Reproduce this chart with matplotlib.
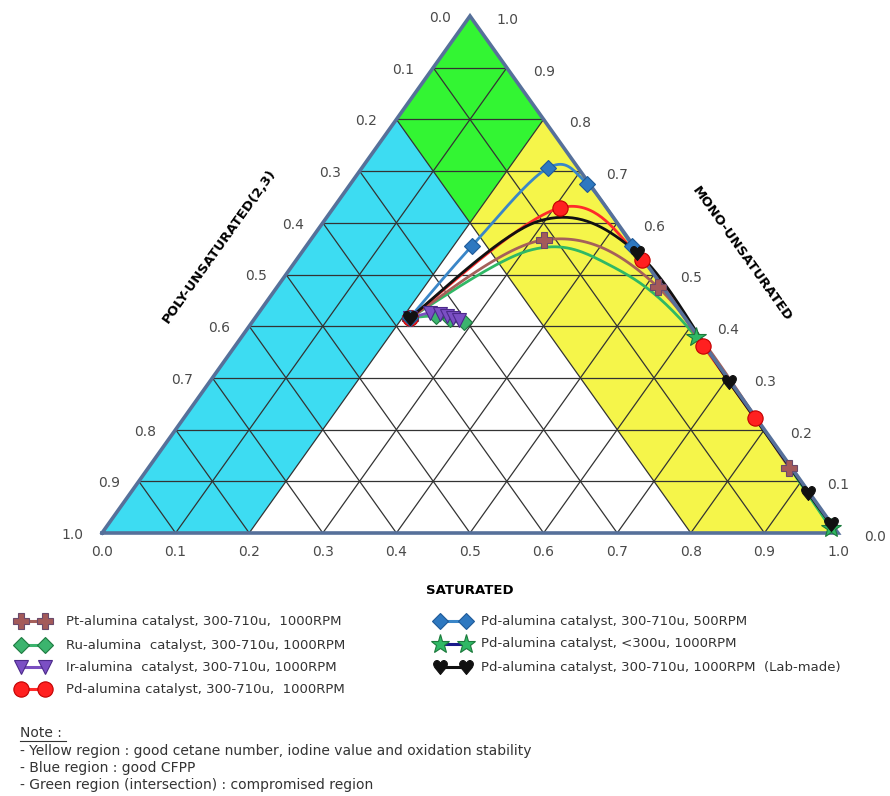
import numpy as np
import matplotlib
matplotlib.use("Agg")
import matplotlib.pyplot as plt

# ---------------- data (ternary compositions: S = saturated, M = mono-unsaturated; P = 1 - S - M) ----
ticks = [0.0, 0.1, 0.2, 0.3, 0.4, 0.5, 0.6, 0.7, 0.8, 0.9, 1.0]
blue_max_S = 0.2     # blue region: S <= 0.2
yellow_max_P = 0.2   # yellow region: P <= 0.2

pt_S = [0.210, 0.317, 0.517, 0.871]
pt_M = [0.416, 0.567, 0.476, 0.126]

ru_S = [0.210, 0.244, 0.266, 0.288]
ru_M = [0.416, 0.420, 0.414, 0.408]

ir_S = [0.210, 0.233, 0.247, 0.259, 0.269, 0.279]
ir_M = [0.416, 0.426, 0.424, 0.420, 0.416, 0.412]

pd1000_S = [0.210, 0.308, 0.470, 0.636, 0.776]
pd1000_M = [0.416, 0.629, 0.528, 0.362, 0.222]

pd500_S = [0.210, 0.225, 0.253, 0.322, 0.443]
pd500_M = [0.416, 0.555, 0.706, 0.675, 0.555]

pd300_S = [0.210, 0.308, 0.431, 0.618, 0.985]
pd300_M = [0.416, 0.547, 0.518, 0.379, 0.010]
pd300_marked = [3, 4]

lab_S = [0.210, 0.293, 0.456, 0.706, 0.921, 0.982]
lab_M = [0.416, 0.604, 0.542, 0.292, 0.077, 0.017]
lab_marked = [0, 2, 3, 4, 5]

legend_left = ["Pt-alumina catalyst, 300-710u,  1000RPM",
               "Ru-alumina  catalyst, 300-710u, 1000RPM",
               "Ir-alumina  catalyst, 300-710u, 1000RPM",
               "Pd-alumina catalyst, 300-710u,  1000RPM"]
legend_right = ["Pd-alumina catalyst, 300-710u, 500RPM",
                "Pd-alumina catalyst, <300u, 1000RPM",
                "Pd-alumina catalyst, 300-710u, 1000RPM  (Lab-made)"]
notes = ["- Yellow region : good cetane number, iodine value and oxidation stability",
         "- Blue region : good CFPP",
         "- Green region (intersection) : compromised region"]

# ---------------- figure ----------------
W, H = 890, 796
fig = plt.figure(figsize=(W / 100, H / 100), dpi=100)
L, R, T, B = 102, 838, 16, 533
ax = fig.add_axes([L / W, 1 - B / H, (R - L) / W, (B - T) / H])
ax.set_xlim(0, 1)
ax.set_ylim(0, 1)
ax.axis("off")
SX, SY = R - L, B - T


def tern(S, M):
    S = np.asarray(S, float)
    M = np.asarray(M, float)
    return S + M / 2.0, M


def smooth(x, y, n=40):
    p = np.column_stack([np.asarray(x) * SX, np.asarray(y) * SY])
    if len(p) < 3:
        return np.asarray(x), np.asarray(y)
    out = []
    t = np.linspace(0, 1, n)[:, None]
    for i in range(len(p) - 1):
        p0 = p[max(i - 1, 0)]
        p1 = p[i]
        p2 = p[i + 1]
        p3 = p[min(i + 2, len(p) - 1)]
        c1 = p1 + (p2 - p0) / 6.0
        c2 = p2 - (p3 - p1) / 6.0
        b = ((1 - t) ** 3) * p1 + 3 * ((1 - t) ** 2) * t * c1 + 3 * (1 - t) * t ** 2 * c2 + t ** 3 * p2
        out.append(b if i == 0 else b[1:])
    out = np.vstack(out)
    return out[:, 0] / SX, out[:, 1] / SY


# regions
def poly(Ss, Ms, color):
    x, y = tern(Ss, Ms)
    ax.fill(x, y, color=color, lw=0, zorder=1)

bs, yp = blue_max_S, yellow_max_P
poly([0, bs, bs, 0], [0, 0, 1 - bs - yp, 1 - yp], "#3ddcf2")
poly([0, bs, bs, 0], [1 - yp, 1 - bs - yp, 1 - bs, 1], "#33f533")
poly([bs, 1 - yp, 1, bs], [1 - bs - yp, 0, 0, 1 - bs], "#f5f54a")

# grid
for v in ticks[1:-1]:
    for Ss, Ms in (([0, 1 - v], [v, v]),            # constant M
                   ([v, v], [0, 1 - v]),            # constant S
                   ([0, 1 - v], [1 - v, 0])):       # constant P
        x, y = tern(Ss, Ms)
        ax.plot(x, y, color="#333333", lw=0.9, zorder=2)

# outline
x, y = tern([0, 1, 0, 0], [0, 0, 1, 0])
ax.plot(x, y, color="#56709a", lw=2.6, zorder=6, solid_joinstyle="miter", clip_on=False)

# series
series = [
    (pd300_S, pd300_M, "#2fb865", "*", "#2fb865", "#1c7a3c", 15, pd300_marked, 3.0),
    (ru_S, ru_M, "#3cb46e", "D", "#3cb46e", "#1e7a40", 8, None, 3.1),
    (pt_S, pt_M, "#a5605a", "P", "#a45a5a", "#6b4a6b", 12, None, 3.2),
    (ir_S, ir_M, "#7a4fc0", "v", "#7b4fc4", "#4b2a8a", 10, None, 3.3),
    (pd1000_S, pd1000_M, "#ff2a2a", "o", "#ff2020", "#c00000", 11, None, 3.4),
    (pd500_S, pd500_M, "#3a86c8", "D", "#2e78c0", "#1f5a99", 8, None, 3.5),
    (lab_S, lab_M, "#111111", "$\u2665$", "#111111", "#111111", 10, lab_marked, 3.6),
]
for S_, M_, lc, mk, fc, ec, ms, marked, z in series:
    x, y = tern(S_, M_)
    xs, ys = smooth(x, y)
    ax.plot(xs, ys, color=lc, lw=2.0, zorder=z, clip_on=False)
    idx = list(range(len(x))) if marked is None else marked
    ax.plot(x[idx], y[idx], ls="none", marker=mk, ms=ms, mfc=fc, mec=ec, mew=0.8,
            zorder=z + 4, clip_on=False)

# tick labels
tcol = "#4a4a4a"
for v in ticks:
    lab = f"{v:.1f}"
    ax.annotate(lab, xy=tern(v, 0), xytext=(0, -19), textcoords="offset pixels",
                ha="center", va="center", fontsize=10, color=tcol)
    ax.annotate(lab, xy=tern(0, 1 - v), xytext=(-30, -2), textcoords="offset pixels",
                ha="center", va="center", fontsize=10, color=tcol)
    ax.annotate(lab, xy=tern(1 - v, v), xytext=(37, -4), textcoords="offset pixels",
                ha="center", va="center", fontsize=10, color=tcol)

# overlay in pixel coordinates for titles / legend / notes
ov = fig.add_axes([0, 0, 1, 1], zorder=10)
ov.set_xlim(0, W)
ov.set_ylim(H, 0)
ov.axis("off")
ov.patch.set_alpha(0)

ov.text(470, 590, "SATURATED", ha="center", va="center", fontsize=9.5, fontweight="bold")
ov.text(219, 246, "POLY-UNSATURATED(2,3)", ha="center", va="center", fontsize=9.5,
        fontweight="bold", rotation=54.5, rotation_mode="anchor")
ov.text(742, 254, "MONO-UNSATURATED", ha="center", va="center", fontsize=9.5,
        fontweight="bold", rotation=-54.5, rotation_mode="anchor")

leg_specs_left = [
    ("#a5605a", "P", "#a45a5a", "#6b4a6b", 12),
    ("#3cb46e", "D", "#3cb46e", "#1e7a40", 8),
    ("#7a4fc0", "v", "#7b4fc4", "#4b2a8a", 10),
    ("#ff2a2a", "o", "#ff2020", "#c00000", 11),
]
leg_specs_right = [
    ("#3a86c8", "D", "#2e78c0", "#1f5a99", 8),
    ("#1a1a8a", "*", "#2fb865", "#1c7a3c", 14),
    ("#111111", "$\u2665$", "#111111", "#111111", 10),
]
rows_left = [621, 645, 667, 689]
rows_right = [621, 644, 667]
for (lc, mk, fc, ec, ms), label, yy in zip(leg_specs_left, legend_left, rows_left):
    ov.plot([21, 45], [yy, yy], color=lc, lw=2.2, marker=mk, ms=ms, mfc=fc, mec=ec, mew=0.8)
    ov.text(66, yy, label, ha="left", va="center", fontsize=9.5, color="#333333")
for (lc, mk, fc, ec, ms), label, yy in zip(leg_specs_right, legend_right, rows_right):
    ov.plot([440, 466], [yy, yy], color=lc, lw=2.2, marker=mk, ms=ms, mfc=fc, mec=ec, mew=0.8)
    ov.text(481, yy, label, ha="left", va="center", fontsize=9.5, color="#333333")

ov.text(20, 733, "Note :", ha="left", va="center", fontsize=10, color="#333333")
ov.plot([20, 66], [741, 741], color="#333333", lw=0.8)
for i, line in enumerate(notes):
    ov.text(20, 751 + 17 * i, line, ha="left", va="center", fontsize=10, color="#333333")

fig.savefig("out.png", dpi=100)
